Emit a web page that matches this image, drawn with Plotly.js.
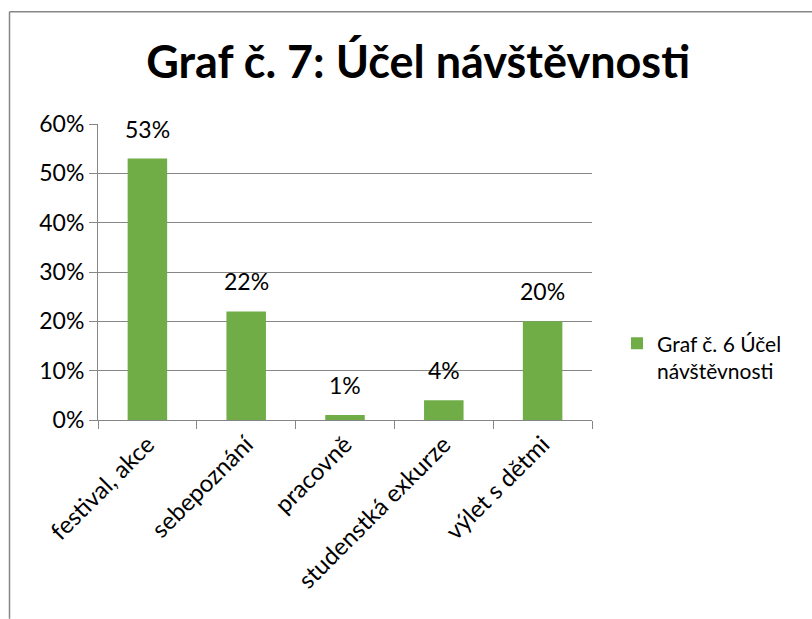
<!DOCTYPE html>
<html>
<head>
<meta charset="utf-8">
<script src="https://cdn.plot.ly/plotly-3.0.1.min.js"></script>
<style>html,body{margin:0;padding:0;background:#fff;}#chart{width:812px;height:619px;}</style>
</head>
<body>
<div id="chart"></div>
<script>
const categories = ["festival, akce", "sebepoznání", "pracovně", "studenstká exkurze", "výlet s dětmi"];
const values = [0.53, 0.22, 0.01, 0.04, 0.20];
const seriesName = "Graf č. 6 Účel<br>návštěvnosti";
const titleText = "Graf č. 7: Účel návštěvnosti";
const yTickVals = [0, 0.1, 0.2, 0.3, 0.4, 0.5, 0.6];

const FONT = "Lato, 'Open Sans', sans-serif";
const gray = "#868686";

const trace = {
  type: "bar",
  x: categories,
  y: values,
  name: seriesName,
  marker: {color: "#70AD47"},
  hoverinfo: "none"
};

const annotations = categories.map((c, i) => ({
  x: c, y: values[i], xref: "x", yref: "y",
  text: Math.round(values[i] * 100) + "%",
  showarrow: false, yanchor: "bottom", yshift: 14,
  font: {family: FONT, size: 23, color: "#000"}
}));

const W = 494, H = 296.5;
const px = v => (v - 98) / W;
const py = v => (420 - v) / H;

const layout = {
  width: 812, height: 619,
  margin: {l: 98, r: 220, t: 123.5, b: 199, pad: 0},
  paper_bgcolor: "#fff", plot_bgcolor: "#fff",
  font: {family: FONT, size: 23, color: "#000"},
  title: {text: "<b>" + titleText + "</b>", x: 0.515, xanchor: "center", y: 0.9, yanchor: "middle",
          font: {family: FONT, size: 45, color: "#000"}},
  bargap: 0.6,
  showlegend: true,
  legend: {x: px(617), y: py(323), xanchor: "left", yanchor: "top", valign: "top",
           font: {family: FONT, size: 21, color: "#000"},
           itemwidth: 30, bgcolor: "rgba(0,0,0,0)"},
  xaxis: {
    type: "category", showline: true, linecolor: gray, linewidth: 1,
    ticks: "outside", ticklen: 8, tickcolor: gray, tickson: "boundaries",
    tickangle: -45, showgrid: false, zeroline: false,
    tickfont: {family: FONT, size: 24, color: "#000"}, automargin: false
  },
  yaxis: {
    range: [0, 0.6], tickvals: yTickVals, tickformat: ".0%",
    showline: true, linecolor: gray, linewidth: 1,
    ticks: "outside", ticklen: 8, tickcolor: gray,
    showgrid: true, gridcolor: gray, gridwidth: 1, zeroline: false,
    tickfont: {family: FONT, size: 23, color: "#000"}, automargin: false
  },
  annotations: annotations,
  shapes: [
    {type: "line", xref: "paper", yref: "paper", x0: px(9.5), x1: px(812), y0: py(11), y1: py(11), line: {color: gray, width: 1.5}},
    {type: "line", xref: "paper", yref: "paper", x0: px(9.5), x1: px(9.5), y0: py(11), y1: py(619), line: {color: gray, width: 1.5}}
  ]
};

Plotly.newPlot("chart", [trace], layout, {displayModeBar: false, staticPlot: true});
</script>
</body>
</html>
